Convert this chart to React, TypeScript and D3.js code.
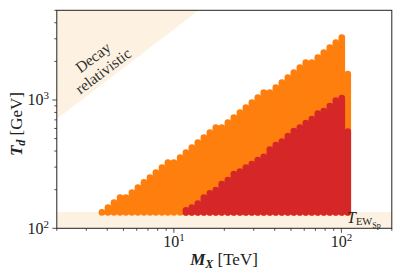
import React from "react";
import { scaleLog } from "d3";

// column masses (TeV) of the scan
const massTeV = [
  3.72, 4.04, 4.39, 4.77, 5.17, 5.62, 6.1, 6.63, 7.2, 7.81, 8.49, 9.21, 10.0, 10.9,
  11.8, 12.8, 13.9, 15.1, 16.4, 17.8, 19.3, 21.0, 22.8, 24.8, 26.9, 29.2, 31.7, 34.4,
  37.4, 40.6, 44.1, 47.9, 52.0, 56.5, 61.3, 66.6, 72.3, 78.5, 85.3, 92.6, 100.6, 109.2,
];
// highest T_d (GeV) reached in each column
const orangeTop = [
  133, 145, 159, 174, 174, 190, 208, 228, 249, 272, 298, 326, 326, 356,
  390, 426, 466, 510, 558, 611, 611, 668, 730, 799, 874, 956, 1046, 1144,
  1144, 1252, 1369, 1498, 1638, 1792, 1960, 1960, 2144, 2345, 2566, 2806, 3069, 1595,
];
// red subset starts at 11.8 TeV
const redTop = [
  138, 145, 156, 174, 187, 199, 221, 238, 265, 277, 298, 317, 341, 360,
  411, 446, 475, 524, 573, 611, 662, 711, 785, 821, 898, 991, 1037, 568,
];
const redMass = massTeV.slice(14);
const tMin = 133;
const tEW = 134;
const decayEdge = [
  [2, 710],
  [14.1, 5000],
];
const xMajor = [10, 100];
const yMajor = [100, 1000];

const W = 402;
const H = 278;
const x = scaleLog().domain([2, 200]).range([56.8, 391.8]);
const y = scaleLog().domain([100, 5000]).range([228.3, 10.3]);

const ORANGE = "#ff7f0e";
const RED = "#d62728";
const FONT = "'Liberation Serif', 'DejaVu Serif', serif";

const Columns: React.FC<{ mass: number[]; top: number[]; color: string }> = ({ mass, top, color }) => (
  <g stroke={color} strokeWidth={6.6} strokeLinecap="round">
    {mass.map((m, i) => (
      <line key={i} x1={x(m)} x2={x(m)} y1={y(tMin)} y2={y(top[i])} />
    ))}
  </g>
);

export default function App() {
  const [x0, x1] = x.range();
  const [yb, yt] = y.range();
  const decayPts = [...decayEdge, [2, 5000]]
    .map(([m, t]) => `${x(m)},${y(t)}`)
    .join(" ");
  return (
    <svg
      width={W}
      height={H}
      style={{ position: "absolute", left: 0, top: 0, background: "#fff" }}
      fontFamily={FONT}
    >
      <defs>
        <clipPath id="plot">
          <rect x={x0} y={yt} width={x1 - x0} height={yb - yt} />
        </clipPath>
      </defs>
      <g clipPath="url(#plot)">
        <polygon points={decayPts} fill="#fdf2e2" />
        <rect x={x0} y={y(tEW)} width={x1 - x0} height={yb - y(tEW)} fill="#fdf2e2" />
        <Columns mass={massTeV} top={orangeTop} color={ORANGE} />
        <Columns mass={redMass} top={redTop} color={RED} />
      </g>

      {/* ticks */}
      <g stroke="#222" strokeWidth={0.8}>
        {x.ticks().map((t) => (
          <line key={"x" + t} x1={x(t)} x2={x(t)} y1={yb} y2={yb + (xMajor.includes(t) ? 4.5 : 2.5)} />
        ))}
        {y.ticks().map((t) => (
          <line key={"y" + t} x1={x0} x2={x0 - (yMajor.includes(t) ? 4.5 : 2.5)} y1={y(t)} y2={y(t)} />
        ))}
      </g>
      <rect x={x0} y={yt} width={x1 - x0} height={yb - yt} fill="none" stroke="#222" strokeWidth={1} />

      <g fontSize={16} fill="#222">
        {xMajor.map((t) => (
          <text key={t} x={x(t)} y={246.5} textAnchor="middle">
            10
            <tspan fontSize={11} dy={-6}>
              {Math.log10(t)}
            </tspan>
          </text>
        ))}
        {yMajor.map((t) => (
          <text key={t} x={49} y={y(t) + 5.5} textAnchor="end">
            10
            <tspan fontSize={11} dy={-6}>
              {Math.log10(t)}
            </tspan>
          </text>
        ))}
      </g>

      <text x={224} y={265} textAnchor="middle" fontSize={17} fill="#222">
        <tspan fontWeight="bold" fontStyle="italic">M</tspan>
        <tspan fontWeight="bold" fontStyle="italic" fontSize={12} dy={3}>X</tspan>
        <tspan dy={-3}> [TeV]</tspan>
      </text>
      <text transform="translate(22,124) rotate(-90)" textAnchor="middle" fontSize={17} fill="#222">
        <tspan fontWeight="bold" fontStyle="italic">T</tspan>
        <tspan fontWeight="bold" fontStyle="italic" fontSize={12} dy={3}>d</tspan>
        <tspan dy={-3}> [GeV]</tspan>
      </text>

      <g transform="translate(98,64) rotate(-37)" fontSize={15.5} fill="#333" textAnchor="middle">
        <text x={0} y={-3}>Decay</text>
        <text x={0} y={14}>relativistic</text>
      </g>

      <text x={347} y={223} fontSize={16} fill="#222">
        <tspan fontStyle="italic">T</tspan>
        <tspan fontSize={10.5} dy={2}>EW</tspan>
        <tspan fontSize={8} dy={2.5}>Sp</tspan>
      </text>
    </svg>
  );
}
